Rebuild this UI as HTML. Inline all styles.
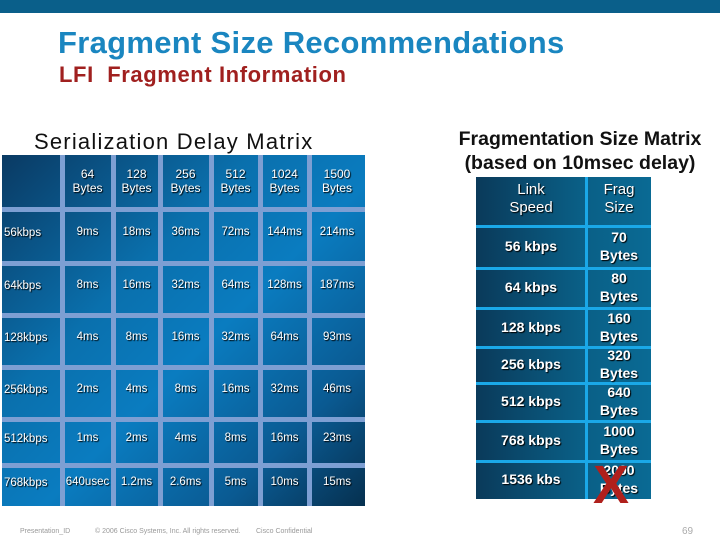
<!DOCTYPE html>
<html><head><meta charset="utf-8">
<style>
body{margin:0;width:720px;height:540px;position:relative;background:#fff;font-family:"Liberation Sans",sans-serif;overflow:hidden}
.a{position:absolute}
.t{position:absolute;color:#fff;text-align:center;font-size:12px;line-height:14px;text-shadow:1px 1px 1px #000}
.lt{position:absolute;background:linear-gradient(135deg,#0a3a63 0%,#0a70ad 35%,#0a7cc0 55%,#0a5a92 80%,#06304f 100%)}
.gv{position:absolute;background:#7d9fd3;width:5px}
.gh{position:absolute;background:#7d9fd3;height:5px}
.rt{position:absolute;background:linear-gradient(90deg,#0a3a5a 0%,#0a5f86 60%,#0a6a94 100%)}
.rv{position:absolute;background:#1aa8e8;width:3px}
.rh{position:absolute;background:#1aa8e8;height:3px}
.r{position:absolute;color:#fff;text-align:center;font-size:14px;font-weight:bold;line-height:18px;text-shadow:1px 1px 1px #000}
</style></head><body>
<div class="a" style="left:0;top:0;width:720px;height:13px;background:#0a5f8a"></div>
<div class="a" style="left:58px;top:25px;font-size:31px;letter-spacing:0.3px;font-weight:bold;color:#1a86c0">Fragment Size Recommendations</div>
<div class="a" style="left:59px;top:62px;font-size:22px;letter-spacing:0.6px;font-weight:bold;color:#a0201f">LFI&nbsp; Fragment Information</div>
<div class="a" style="left:34px;top:129px;font-size:22px;letter-spacing:1.2px;color:#111">Serialization Delay Matrix</div>
<div class="a" style="left:430px;top:127px;width:300px;text-align:center;font-size:19.5px;font-weight:bold;line-height:24px;color:#111">Fragmentation Size Matrix<br>(based on 10msec delay)</div>

<div class="lt" style="left:2px;top:155px;width:363px;height:351px"></div>
<div id="L"></div>

<div class="rt" style="left:476px;top:177px;width:175px;height:322px"></div>
<div id="R"></div>

<div class="a" style="left:593px;top:458px;font-size:54px;font-weight:bold;color:#b0201c;line-height:54px">X</div>

<div class="a" style="left:20px;top:528px;font-size:7px;color:#999">Presentation_ID</div>
<div class="a" style="left:95px;top:528px;font-size:7px;color:#999">© 2006 Cisco Systems, Inc. All rights reserved.</div>
<div class="a" style="left:256px;top:528px;font-size:7px;color:#999">Cisco Confidential</div>
<div class="a" style="left:682px;top:526px;font-size:10px;color:#aaa">69</div>

<script>
const colHeaders=["64<br>Bytes","128<br>Bytes","256<br>Bytes","512<br>Bytes","1024<br>Bytes","1500<br>Bytes"];
const rowHeaders=["56kbps","64kbps","128kbps","256kbps","512kbps","768kbps"];
const delays=[["9ms","18ms","36ms","72ms","144ms","214ms"],["8ms","16ms","32ms","64ms","128ms","187ms"],["4ms","8ms","16ms","32ms","64ms","93ms"],["2ms","4ms","8ms","16ms","32ms","46ms"],["1ms","2ms","4ms","8ms","16ms","23ms"],["640usec","1.2ms","2.6ms","5ms","10ms","15ms"]];
const linkSpeeds=["56 kbps","64 kbps","128 kbps","256 kbps","512 kbps","768 kbps","1536 kbs"];
const fragSizes=["70<br>Bytes","80<br>Bytes","160<br>Bytes","320<br>Bytes","640<br>Bytes","1000<br>Bytes","2000<br>Bytes"];

const L=document.getElementById('L');
const cx=[2,62,113,160,211,260,309,365];
const ry=[155,209,263,315,367,419,465,506];
function mk(p,cls,css,html){const e=document.createElement('div');e.className=cls;e.style.cssText=css;if(html)e.innerHTML=html;p.appendChild(e);return e;}
for(let i=1;i<7;i++){const e=mk(L,'gv',`left:${cx[i]-2}px;top:155px;height:351px`);

}
for(let j=1;j<7;j++){const e=mk(L,'gh',`left:2px;top:${ry[j]-2}px;width:363px`);

}
colHeaders.forEach((h,i)=>{const e=mk(L,'t',`left:${cx[i+1]}px;top:167px;width:${cx[i+2]-cx[i+1]}px`,h);

});
rowHeaders.forEach((h,j)=>{const e=mk(L,'t',`left:4px;top:${(ry[j+1]+ry[j+2])/2-10}px;text-align:left;font-size:11.5px`,h);


delays[j].forEach((v,i)=>{const c=mk(L,'t',`left:${cx[i+1]}px;top:${(ry[j+1]+ry[j+2])/2-11}px;width:${cx[i+2]-cx[i+1]}px;font-size:11.5px`,v);

});});

const R=document.getElementById('R');
const rr=[177,226,268,308,347,383,421,461,499];
{const e=mk(R,'rv','left:585px;top:177px;height:322px');

}
for(let j=1;j<8;j++){const e=mk(R,'rh',`left:476px;top:${rr[j]-1}px;width:175px`);

}
{const e=mk(R,'r','left:476px;top:181px;width:110px;font-weight:normal;font-size:15px','Link<br>Speed');


const f=mk(R,'r','left:587px;top:181px;width:64px;font-weight:normal;font-size:15px','Frag<br>Size');

}
linkSpeeds.forEach((s,j)=>{const m=(rr[j+1]+rr[j+2])/2;
const e=mk(R,'r',`left:476px;top:${m-10}px;width:110px`,s);


const f=mk(R,'r',`left:587px;top:${m-19}px;width:64px`,fragSizes[j]);

});
</script>
</body></html>
